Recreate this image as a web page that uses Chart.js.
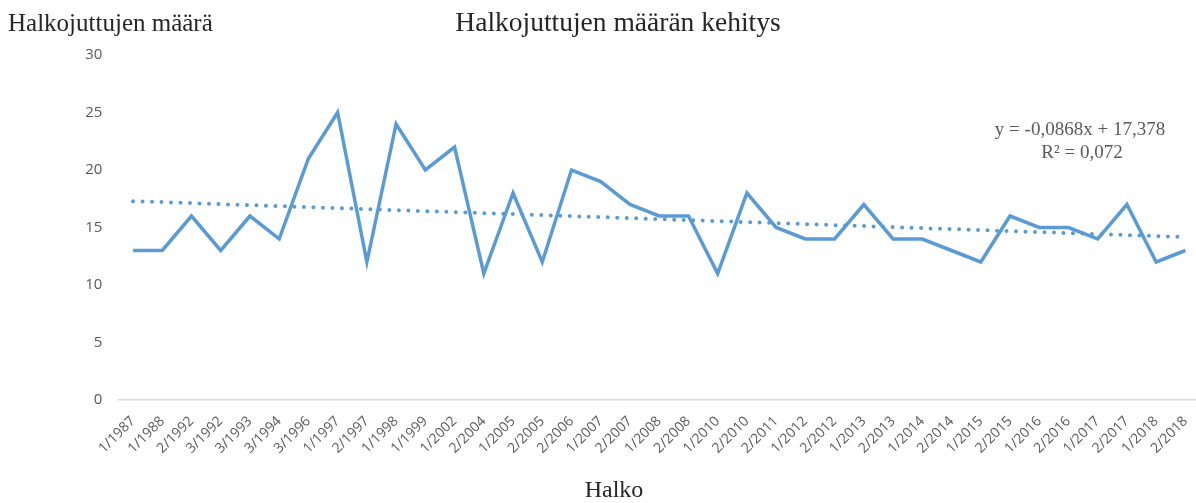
<!DOCTYPE html>
<html>
<head>
<meta charset="utf-8">
<script src="https://cdn.jsdelivr.net/npm/chart.js@4.4.1/dist/chart.umd.min.js"></script>
<style>
  html, body { margin: 0; padding: 0; background: #ffffff; overflow: hidden; }
  #wrap { position: relative; width: 1200px; height: 503px; }
</style>
</head>
<body>
<div id="wrap"><canvas id="c" width="1200" height="503"></canvas></div>
<script>
// ---- Data ----
const categories = ["1/1987","1/1988","2/1992","3/1992","3/1993","3/1994","3/1996","1/1997","2/1997","1/1998",
  "1/1999","1/2002","2/2004","1/2005","2/2005","2/2006","1/2007","2/2007","1/2008","2/2008",
  "1/2010","2/2010","2/2011","1/2012","2/2012","1/2013","2/2013","1/2014","2/2014","1/2015",
  "2/2015","1/2016","2/2016","1/2017","2/2017","1/2018","2/2018"];
const caseCounts = [13,13,16,13,16,14,21,25,12,24,
  20,22,11,18,12,20,19,17,16,16,
  11,18,15,14,14,17,14,14,13,12,
  16,15,15,14,17,12,13];
const yTicks = [0,5,10,15,20,25,30];
// Trendline as printed on the chart: y = -0,0868x + 17,378 ; R² = 0,072
const trendSlope = -0.0868;
const trendIntercept = 17.378;
const equationLines = ["y = -0,0868x + 17,378", "R² = 0,072"];
const chartTitle = "Halkojuttujen määrän kehitys";
const yAxisTitle = "Halkojuttujen määrä";
const xAxisTitle = "Halko";

const trendValues = categories.map((_, i) => trendSlope * (i + 1) + trendIntercept);

const textPlugin = {
  id: 'texts',
  afterDraw(chart) {
    const ctx = chart.ctx;
    ctx.save();
    ctx.fillStyle = '#262626';
    ctx.textBaseline = 'alphabetic';
    ctx.font = '27.5px "Liberation Serif", "Times New Roman", serif';
    ctx.textAlign = 'center';
    ctx.fillText(chartTitle, 618, 31);
    ctx.font = '25px "Liberation Serif", "Times New Roman", serif';
    ctx.textAlign = 'left';
    ctx.fillText(yAxisTitle, 8, 31);
    ctx.font = '24px "Liberation Serif", "Times New Roman", serif';
    ctx.textAlign = 'center';
    ctx.fillText(xAxisTitle, 614, 497);
    ctx.fillStyle = '#595959';
    ctx.font = '19px "Liberation Serif", "Times New Roman", serif';
    ctx.fillText(equationLines[0], 1080, 135);
    ctx.fillText(equationLines[1], 1082, 158);
    ctx.restore();
  }
};

new Chart(document.getElementById('c'), {
  type: 'line',
  data: {
    labels: categories,
    datasets: [
      {
        label: 'Halko',
        data: caseCounts,
        borderColor: '#5B9BD5',
        borderWidth: 3.5,
        pointRadius: 0,
        tension: 0,
        borderJoinStyle: 'miter',
        fill: false
      },
      {
        label: 'Trend',
        data: trendValues,
        borderColor: '#5B9BD5',
        borderWidth: 4,
        borderDash: [0, 9.5],
        borderCapStyle: 'round',
        pointRadius: 0,
        tension: 0,
        fill: false
      }
    ]
  },
  options: {
    responsive: false,
    animation: false,
    devicePixelRatio: 1,
    layout: { padding: { top: 55, right: 0, bottom: 0, left: 0 } },
    plugins: {
      legend: { display: false },
      title: { display: false },
      tooltip: { enabled: false }
    },
    scales: {
      x: {
        type: 'category',
        offset: true,
        grid: { display: false, drawTicks: false },
        border: { display: true, color: '#d9d9d9', width: 1.5 },
        ticks: {
          color: '#595959',
          font: { family: '"Open Sans", sans-serif', size: 14 },
          minRotation: 45,
          maxRotation: 45,
          autoSkip: false,
          padding: 13
        },
        afterFit(scale) { scale.height = 103; scale.paddingRight = 0; scale.paddingLeft = 0; }
      },
      y: {
        min: 0,
        max: 30,
        afterBuildTicks(scale) { scale.ticks = yTicks.map(v => ({ value: v })); },
        grid: { display: false, drawTicks: false },
        border: { display: false },
        ticks: {
          color: '#595959',
          font: { family: '"Open Sans", sans-serif', size: 15 },
          padding: 16
        },
        afterFit(scale) { scale.width = 118.4; }
      }
    }
  },
  plugins: [textPlugin]
});
</script>
</body>
</html>
